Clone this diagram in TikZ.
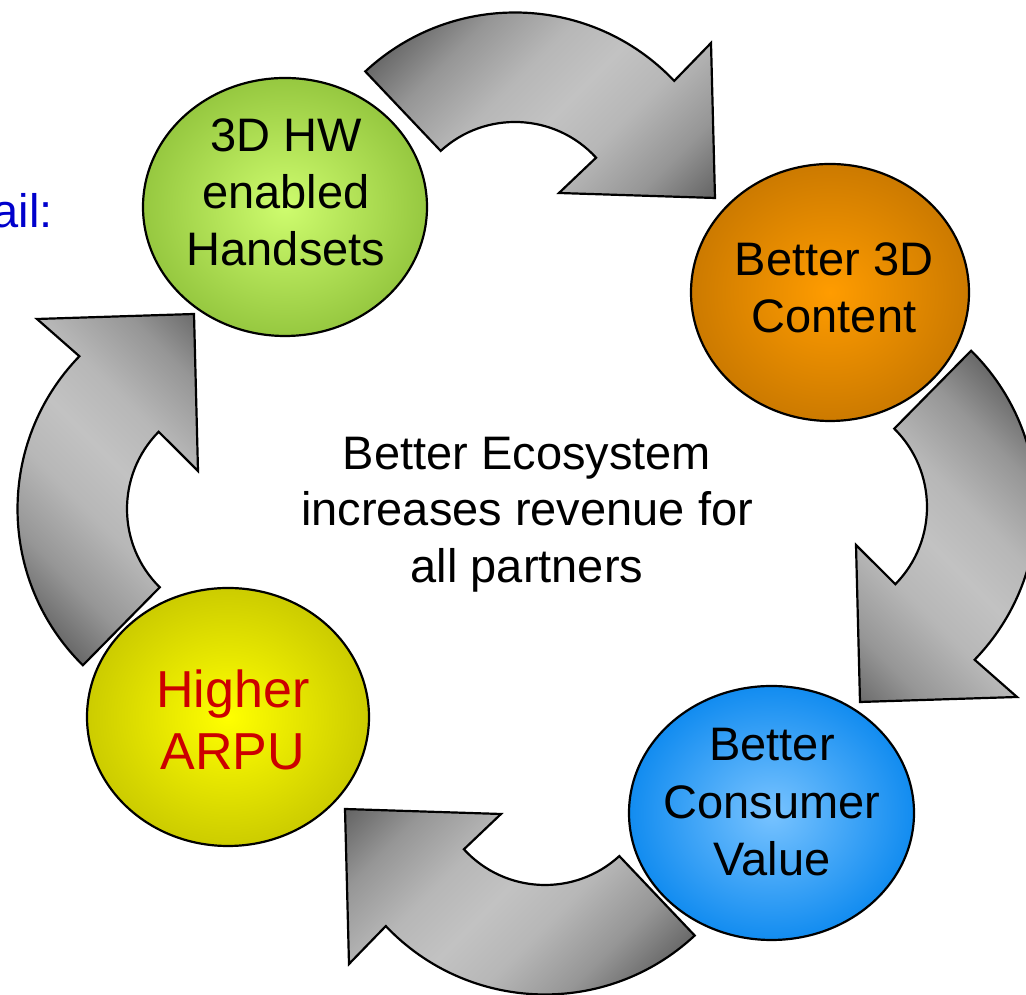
\documentclass[tikz,border=0pt]{standalone}
\usepackage{fontspec}
\setmainfont{Liberation Sans}
\usetikzlibrary{calc,shapes.geometric}

\definecolor{arrowdark}{RGB}{85,85,85}
\definecolor{arrowmid}{RGB}{150,150,150}
\definecolor{arrowsoft}{RGB}{183,183,183}
\definecolor{arrowlight}{RGB}{194,194,194}
\definecolor{greenin}{RGB}{206,252,110}
\definecolor{greenout}{RGB}{150,200,64}
\definecolor{orangein}{RGB}{255,156,0}
\definecolor{orangeout}{RGB}{204,122,0}
\definecolor{bluein}{RGB}{120,195,255}
\definecolor{blueout}{RGB}{18,140,240}
\definecolor{yellowin}{RGB}{255,255,0}
\definecolor{yellowout}{RGB}{204,204,0}
\definecolor{labelred}{RGB}{204,0,0}
\definecolor{labelblue}{RGB}{0,0,204}

% dark - light - dark band used inside every curved arrow
\pgfdeclarehorizontalshading{arrowshade}{100bp}{color(0bp)=(arrowdark); color(32bp)=(arrowdark); color(39bp)=(arrowmid); color(45bp)=(arrowsoft); color(50bp)=(arrowlight); color(55bp)=(arrowsoft); color(61bp)=(arrowmid); color(68bp)=(arrowdark); color(100bp)=(arrowdark)}

% outlines of the four curved arrows (centre of arc, outer/inner radius, arrow head)
\def\cycTop{(515,763) ++(133:219.5) arc[start angle=133, end angle=43.5, radius=219.5] -- (711,952) -- (715,797) -- (559,802) -- ($(515,763)+(42.5:110)$) arc[start angle=42.5, end angle=132.5, radius=110] -- cycle}
\def\cycRight{(817,488) ++(45.4:219.5) arc[start angle=45.4, end angle=-44.1, radius=219.5] -- (1017,298) -- (860,293) -- (856,450) -- ($(817,488)+(-44.6:110)$) arc[start angle=-44.6, end angle=45.4, radius=110] -- cycle}
\def\cycBottom{(545,220) ++(313:219.5) arc[start angle=313, end angle=223.5, radius=219.5] -- (349,31) -- (345,186) -- (501,181) -- ($(545,220)+(222.5:110)$) arc[start angle=222.5, end angle=312.5, radius=110] -- cycle}
\def\cycLeft{(237,486) ++(225.4:219.5) arc[start angle=225.4, end angle=135.9, radius=219.5] -- (37,676) -- (194,681) -- (198,524) -- ($(237,486)+(135.4:110)$) arc[start angle=135.4, end angle=225.4, radius=110] -- cycle}

\tikzset{
  arrowline/.style={draw=black, line width=2.2pt, line join=miter},
  stage/.style={ellipse, draw=black, line width=2.2pt, shade, inner sep=0pt},
  labeltext/.style={font=\fontsize{47}{57}\selectfont, align=center, inner sep=0pt},
}

% fill one arrow with the band rotated by #2 around #3, then outline it
\newcommand\shadedcycarrow[3]{%
  \begin{scope}
    \clip #1;
    \begin{scope}[transform canvas={rotate around={#2:#3}}]
      \shade[shading=arrowshade] ($#3+(-260,-260)$) rectangle ($#3+(260,260)$);
    \end{scope}
  \end{scope}
  \draw[arrowline] #1;
}

\begin{document}
\begin{tikzpicture}[x=1pt, y=1pt]
  \useasboundingbox (0,0) rectangle (1026,995);
  \fill[white] (0,0) rectangle (1026,995);

  % curved arrows
  \shadedcycarrow{\cycTop}{-45}{(560,885)}
  \shadedcycarrow{\cycRight}{45}{(939,443)}
  \shadedcycarrow{\cycBottom}{-45}{(500,98)}
  \shadedcycarrow{\cycLeft}{45}{(115,531)}

  % stages
  \node[stage, minimum width=284pt, minimum height=258pt, inner color=greenin, outer color=greenout] (g) at (285,788) {};
  \node[stage, minimum width=278pt, minimum height=257pt, inner color=orangein, outer color=orangeout] (o) at (830,702.5) {};
  \node[stage, minimum width=285pt, minimum height=254pt, inner color=bluein, outer color=blueout] (b) at (771.5,182) {};
  \node[stage, minimum width=282pt, minimum height=258pt, inner color=yellowin, outer color=yellowout] (y) at (228,278) {};

  % texts
  \node[labeltext] (gt) at (286,803) {3D HW\\enabled\\Handsets};
  \node[labeltext] (ot) at (834,707.5) {Better 3D\\Content};
  \node[labeltext, font=\fontsize{47}{57.5}\selectfont] (bt) at (772,192.5) {Better\\Consumer\\Value};
  \node[labeltext, font=\fontsize{52}{62}\selectfont, text=labelred] (yt) at (233,275) {Higher\\ARPU};
  \node[labeltext, font=\fontsize{47}{56.5}\selectfont] (ct) at (527,480.5) {Better Ecosystem\\increases revenue for\\all partners};
  \node[font=\fontsize{47}{57}\selectfont, text=labelblue, anchor=base east, inner sep=0pt] (tag) at (53,767) {ail:};
\end{tikzpicture}
\end{document}
